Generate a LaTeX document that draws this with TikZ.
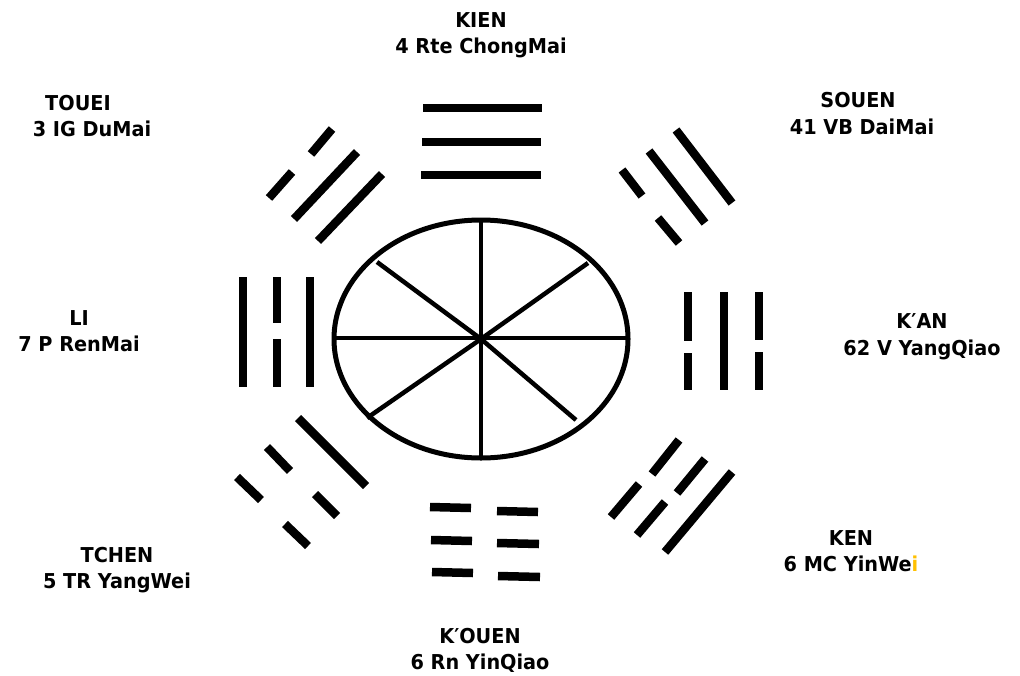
\documentclass[tikz,border=0pt]{standalone}
\usepackage{fontspec}
\newfontfamily\labfont{DejaVu Sans}[FakeStretch=0.94]
\definecolor{gold}{RGB}{255,192,0}
\begin{document}
\begin{tikzpicture}[x=1pt,y=-1pt,
  trbar/.style={line width=8.5pt,line cap=butt},
  rim/.style={line width=5pt},
  spoke/.style={line width=4.5pt},
  lab/.style={font=\labfont\bfseries\fontsize{20.5}{26}\selectfont,anchor=base,inner sep=0pt}]
\useasboundingbox[fill=white] (0,0) rectangle (1020,675);
% central wheel
\coordinate (c) at (481,339);
\draw[rim] (c) ellipse [x radius=147, y radius=119];
\coordinate (sN) at (481,219);
\coordinate (sS) at (481,457);
\coordinate (sW) at (334,338);
\coordinate (sE) at (628,338);
\coordinate (sNW) at (377,262);
\coordinate (sSE) at (576,420);
\coordinate (sNE) at (588,263);
\coordinate (sSW) at (367,418);
\draw[spoke] (sN) -- (sS);
\draw[spoke] (sW) -- (sE);
\draw[spoke] (sNW) -- (c) -- (sSE);
\draw[spoke] (sNE) -- (c) -- (sSW);
% KIEN (top)
\draw[trbar] (423,108) -- (542,108);
\draw[trbar] (422,142) -- (541,142);
\draw[trbar] (421,175) -- (541,175);
% TOUEI (top-left)
\draw[trbar] (332,129) -- (311,154);
\draw[trbar] (292,172) -- (269,198);
\draw[trbar] (357,152) -- (294,219);
\draw[trbar] (382,174) -- (318,241);
% SOUEN (top-right)
\draw[trbar] (676,130) -- (732,203);
\draw[trbar] (649,151) -- (705,223);
\draw[trbar] (622,170) -- (642,196);
\draw[trbar] (658,218) -- (679,243);
% K'AN (right)
\draw[trbar] (688,292) -- (688,341);
\draw[trbar] (688,353) -- (688,390);
\draw[trbar] (724,292) -- (724,390);
\draw[trbar] (759,292) -- (759,340);
\draw[trbar] (759,352) -- (759,390);
% KEN (bottom-right)
\draw[trbar] (679,440) -- (652,474);
\draw[trbar] (639,484) -- (611,517);
\draw[trbar] (705,459) -- (677,493);
\draw[trbar] (665,502) -- (637,535);
\draw[trbar] (732,472) -- (665,552);
% K'OUEN (bottom)
\draw[trbar] (430,507) -- (471,508);
\draw[trbar] (497,511) -- (538,512);
\draw[trbar] (431,540) -- (472,541);
\draw[trbar] (497,543) -- (539,544);
\draw[trbar] (432,572) -- (473,573);
\draw[trbar] (498,576) -- (540,577);
% TCHEN (bottom-left)
\draw[trbar] (298,418) -- (366,486);
\draw[trbar] (267,447) -- (290,471);
\draw[trbar] (315,494) -- (337,516);
\draw[trbar] (237,477) -- (261,500);
\draw[trbar] (285,524) -- (308,546);
% LI (left)
\draw[trbar] (243,277) -- (243,387);
\draw[trbar] (277,277) -- (277,323);
\draw[trbar] (277,339) -- (277,387);
\draw[trbar] (310,277) -- (310,387);
% labels
\node[lab] (kienA) at (481,27) {KIEN};
\node[lab] (kienB) at (481,53) {4 Rte ChongMai};
\node[lab] (toueiA) at (78,110) {TOUEI};
\node[lab] (toueiB) at (92,136) {3 IG DuMai};
\node[lab] (souenA) at (858,107) {SOUEN};
\node[lab] (souenB) at (862,134) {41 VB DaiMai};
\node[lab] (kanA) at (922,328) {K′AN};
\node[lab] (kanB) at (922,355) {62 V YangQiao};
\node[lab] (liA) at (79,325) {LI};
\node[lab] (liB) at (79,351) {7 P RenMai};
\node[lab] (kenA) at (851,545) {KEN};
\node[lab] (kenB) at (851,571) {6 MC YinWe\textcolor{gold}{i}};
\node[lab] (tchenA) at (117,562) {TCHEN};
\node[lab] (tchenB) at (117,588) {5 TR YangWei};
\node[lab] (kouenA) at (480,643) {K′OUEN};
\node[lab] (kouenB) at (480,669) {6 Rn YinQiao};
\end{tikzpicture}
\end{document}
